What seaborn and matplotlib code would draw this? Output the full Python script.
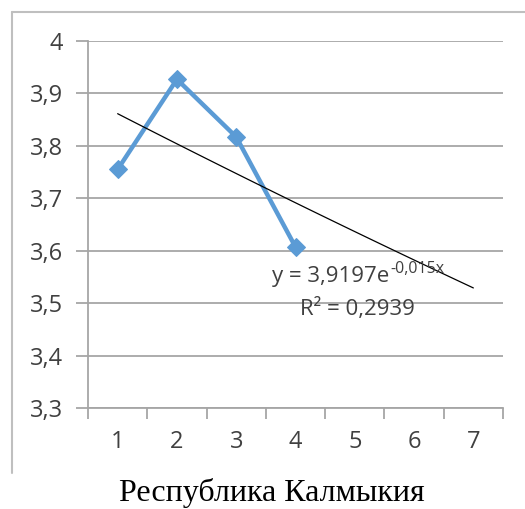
import numpy as np
import pandas as pd
import matplotlib
matplotlib.use("Agg")
import matplotlib.pyplot as plt
from matplotlib.lines import Line2D
from matplotlib.ticker import FixedLocator, FuncFormatter
import seaborn as sns

# Observed values by period
periods = [1, 2, 3, 4]
values = [3.755, 3.927, 3.817, 3.607]

# Exponential trend parameters
trend_a = 3.9197
trend_b = -0.015
trend_r2 = 0.2939
trend_x = [1, 7]

y_ticks = [3.3, 3.4, 3.5, 3.6, 3.7, 3.8, 3.9, 4.0]
x_ticks = [1, 2, 3, 4, 5, 6, 7]
title = "Республика Калмыкия"

sns.set_theme(style="white")
plt.rcParams["font.family"] = ["Open Sans", "DejaVu Sans"]

W, H = 525, 509
fig = plt.figure(figsize=(W / 100, H / 100), dpi=100)
ax = fig.add_axes([88 / W, 1 - 408 / H, (503 - 88) / W, (408 - 41) / H])

grid_col = "#a6a6a6"
text_col = "#404040"
blue = "#5b9bd5"
fs_ticks = 17
fs_eq = 16

df = pd.DataFrame({"period": periods, "value": values})
sns.lineplot(data=df, x="period", y="value", ax=ax, color=blue, linewidth=3.2,
             marker="D", markersize=9, markeredgecolor=blue, zorder=3)

tx = np.linspace(trend_x[0], trend_x[1], 50)
trend = pd.DataFrame({"x": tx, "y": trend_a * np.exp(trend_b * tx)})
sns.lineplot(data=trend, x="x", y="y", ax=ax, color="black", linewidth=0.9, zorder=4)

ax.set_xlim(0.5, 7.5)
ax.set_ylim(3.3, 4.0)
ax.set_xlabel("")
ax.set_ylabel("")

ax.yaxis.set_major_locator(FixedLocator(y_ticks))
ax.yaxis.set_major_formatter(FuncFormatter(lambda v, p: ("%g" % round(v, 1)).replace(".", ",")))
ax.xaxis.set_major_locator(FixedLocator(x_ticks))
ax.xaxis.set_minor_locator(FixedLocator([i + 0.5 for i in range(0, 8)]))
ax.xaxis.set_major_formatter(FuncFormatter(lambda v, p: "%d" % v))

ax.grid(axis="y", color=grid_col, linewidth=1.3)
ax.set_axisbelow(True)
for s in ["top", "right"]:
    ax.spines[s].set_visible(False)
for s in ["left", "bottom"]:
    ax.spines[s].set_color(grid_col)
    ax.spines[s].set_linewidth(1.3)

ax.tick_params(axis="y", which="major", length=9, width=1.3, color=grid_col,
               labelsize=fs_ticks, labelcolor=text_col, pad=9, left=True)
ax.tick_params(axis="x", which="major", length=0, labelsize=fs_ticks,
               labelcolor=text_col, pad=16, bottom=True)
ax.tick_params(axis="x", which="minor", length=8, width=1.3, color=grid_col, bottom=True)

# Trend equation label
eq = fig.text(272 / W, 1 - 282 / H, "y = %se" % str(trend_a).replace(".", ","),
              fontsize=fs_eq, color=text_col, ha="left", va="baseline")
fig.text(300 / W, 1 - 315 / H, "R² = %s" % str(trend_r2).replace(".", ","),
         fontsize=fs_eq, color=text_col, ha="left", va="baseline")
fig.canvas.draw()
bb = eq.get_window_extent()
fig.text(bb.x1 / W + 1 / W, 1 - 273 / H, ("%g" % trend_b).replace(".", ",") + "x",
         fontsize=11.5, color=text_col, ha="left", va="baseline")

# Chart frame
frame_col = "#bfbfbf"
fig.add_artist(Line2D([12 / W, 12 / W], [1 - 12 / H, 1 - 473 / H],
                      color=frame_col, linewidth=1.5, transform=fig.transFigure))
fig.add_artist(Line2D([12 / W, 1.0], [1 - 12 / H, 1 - 12 / H],
                      color=frame_col, linewidth=1.5, transform=fig.transFigure))

fig.text(272 / W, 1 - 493 / H, title, fontsize=23, family="Liberation Serif",
         ha="center", va="center", color="black")

fig.savefig("out.png", dpi=100)
